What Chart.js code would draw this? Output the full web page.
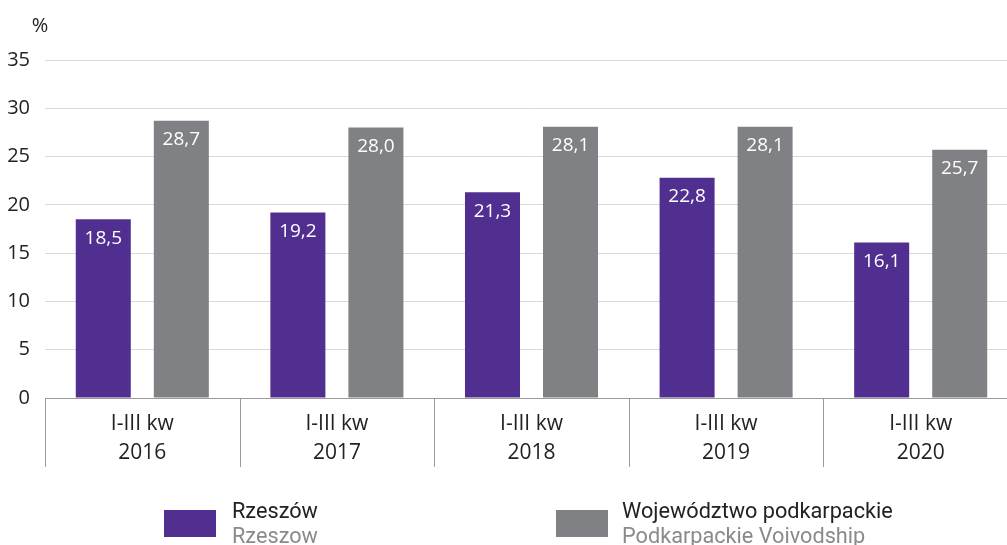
<!DOCTYPE html>
<html>
<head>
<meta charset="utf-8">
<script src="https://cdn.jsdelivr.net/npm/chart.js@4.4.0/dist/chart.umd.min.js"></script>
<style>
html, body { margin: 0; padding: 0; overflow: hidden; background: #fff; width: 1007px; height: 545px; }
#wrap { position: relative; width: 1018px; height: 545px; }
#c { position: absolute; left: 0; top: 0; }
.leg { position: absolute; font-family: Roboto, "Noto Sans", sans-serif; font-size: 21.7px; line-height: 25px; color: #222; white-space: nowrap; }
.leg .sub { color: #8a8a8a; }
.box { position: absolute; width: 52px; height: 27px; }
</style>
</head>
<body>
<div id="wrap">
  <canvas id="c"></canvas>
  <div class="box" style="left:164px; top:510px; background:#512F91;"></div>
  <div class="leg" style="left:232px; top:498px;">Rzeszów<br><span class="sub">Rzeszow</span></div>
  <div class="box" style="left:556px; top:510px; background:#808185;"></div>
  <div class="leg" style="left:622px; top:498px;">Województwo podkarpackie<br><span class="sub">Podkarpackie Voivodship</span></div>
</div>
<script>
const categories = [["I-III kw", "2016"], ["I-III kw", "2017"], ["I-III kw", "2018"], ["I-III kw", "2019"], ["I-III kw", "2020"]];
const rzeszow = [18.5, 19.2, 21.3, 22.8, 16.1];
const podkarpackie = [28.7, 28.0, 28.1, 28.1, 25.7];
const seriesNames = ["Rzeszów", "Województwo podkarpackie"];
const yMin = 0, yMax = 35, yStep = 5;
const unitLabel = "%";

const FONT = '"Open Sans", "Noto Sans", sans-serif';

const decor = {
  id: 'decor',
  afterDraw(chart) {
    const ctx = chart.ctx;
    const xs = chart.scales.x;
    const area = chart.chartArea;
    ctx.save();
    ctx.strokeStyle = '#9a9a9a';
    ctx.lineWidth = 1;
    const n = categories.length;
    const w = (xs.right - xs.left) / n;
    for (let i = 0; i <= n; i++) {
      const x = Math.round(xs.left + i * w) + 0.5;
      ctx.beginPath();
      ctx.moveTo(x, area.bottom);
      ctx.lineTo(x, area.bottom + 69);
      ctx.stroke();
    }
    ctx.fillStyle = '#222';
    ctx.font = '20px ' + FONT;
    ctx.textAlign = 'center';
    ctx.textBaseline = 'middle';
    ctx.fillText(unitLabel, 40, 26);
    ctx.fillStyle = '#ffffff';
    ctx.font = '19px ' + FONT;
    chart.data.datasets.forEach((ds, di) => {
      const meta = chart.getDatasetMeta(di);
      meta.data.forEach((el, i) => {
        const v = ds.data[i];
        ctx.fillText(v.toFixed(1).replace('.', ','), el.x, el.y + 19);
      });
    });
    ctx.restore();
  }
};

new Chart(document.getElementById('c'), {
  type: 'bar',
  data: {
    labels: categories,
    datasets: [
      { label: seriesNames[0], data: rzeszow, backgroundColor: '#512F91', categoryPercentage: 0.802, barPercentage: 0.705 },
      { label: seriesNames[1], data: podkarpackie, backgroundColor: '#808185', categoryPercentage: 0.802, barPercentage: 0.705 }
    ]
  },
  options: {
    responsive: true,
    maintainAspectRatio: false,
    animation: false,
    devicePixelRatio: 1,
    layout: { padding: { top: 60, left: 0, right: 0, bottom: 0 } },
    plugins: { legend: { display: false }, tooltip: { enabled: false } },
    scales: {
      x: {
        grid: { display: false },
        border: { display: true, color: '#9a9a9a' },
        ticks: { color: '#222', font: { family: FONT, size: 21, lineHeight: 1.4 }, padding: 3, maxRotation: 0, autoSkip: false },
        afterFit(s) { s.height = 545 - 398; }
      },
      y: {
        min: yMin, max: yMax,
        ticks: { stepSize: yStep, color: '#222', font: { family: FONT, size: 20 }, padding: 15 },
        grid: { color: '#d9d9d9', drawTicks: false },
        border: { display: false },
        afterFit(s) { s.width = 45; }
      }
    }
  },
  plugins: [decor]
});
</script>
</body>
</html>
